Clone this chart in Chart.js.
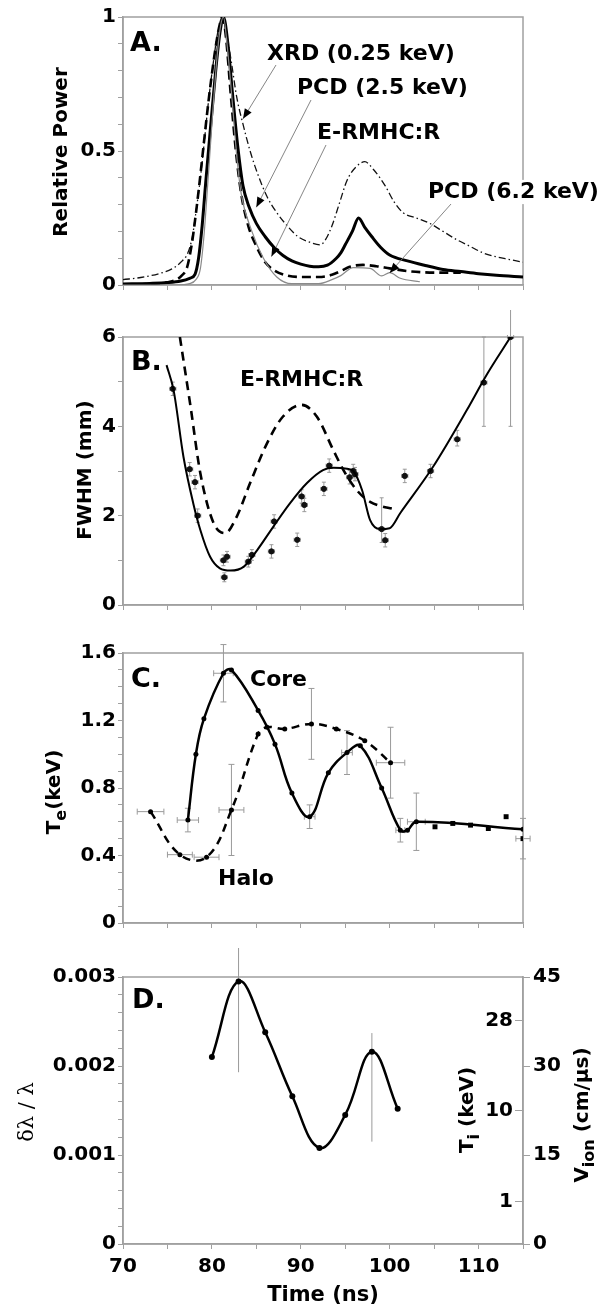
<!DOCTYPE html>
<html>
<head>
<meta charset="utf-8">
<script src="https://cdn.jsdelivr.net/npm/chart.js@4"></script>
<style>
  html, body { margin: 0; padding: 0; background: #fff; }
  #wrap { position: relative; width: 608px; height: 1311px; overflow: hidden; }
  #wrap canvas { position: absolute; left: 0; }
</style>
</head>
<body>
<div id="wrap">
  <canvas id="cA" width="608" height="310" style="top:0px"></canvas>
  <canvas id="cB" width="608" height="320" style="top:310px"></canvas>
  <canvas id="cC" width="608" height="318" style="top:630px"></canvas>
  <canvas id="cD" width="608" height="363" style="top:948px"></canvas>
</div>
<script>
// ---------- shared time axis (ns) ----------
const timeMin = 70, timeMax = 115;
const timeLabels = [70, 80, 90, 100, 110];

// ---------- A: relative power ----------
const powerTicks = [0, 0.5, 1];
const xrdT = [70,72,74,75.5,76.5,77.3,77.8,78.2,78.6,79.1,79.6,80.2,80.7,81.2,81.7,82.2,82.8,83.5,84.3,85.2,86.2,87.3,88.5,89.7,91,92.2,92.8,93.5,94.3,95.2,96.2,97.2,98.2,99.5,100.5,101.5,103,104.5,106,107.5,109,110.5,112,113.5,115];
const xrdP = [0.02,0.028,0.042,0.06,0.085,0.12,0.18,0.27,0.37,0.52,0.68,0.84,0.95,1.0,0.93,0.83,0.7,0.6,0.5,0.41,0.33,0.27,0.22,0.18,0.16,0.15,0.17,0.22,0.3,0.39,0.44,0.46,0.43,0.37,0.31,0.27,0.25,0.23,0.2,0.17,0.145,0.12,0.105,0.095,0.085];
const pcd25T = [70,73,75,76.5,77.5,78.1,78.5,78.9,79.3,79.8,80.4,80.9,81.3,81.8,82.3,82.9,83.5,84.2,85,86,87,88,89,90,91,92,93,94,94.5,95,95.8,96.5,97.2,98,99,100,102,104,106,108,110,112,115];
const pcd25P = [0.004,0.006,0.009,0.015,0.025,0.04,0.1,0.22,0.38,0.57,0.79,0.94,1.0,0.9,0.72,0.52,0.37,0.29,0.23,0.18,0.14,0.11,0.09,0.078,0.07,0.068,0.074,0.1,0.12,0.15,0.2,0.25,0.215,0.18,0.14,0.112,0.09,0.073,0.058,0.05,0.042,0.036,0.03];
const ermhcT = [70,73,75,76,76.6,77.2,77.75,78.1,78.5,79,79.6,80.3,80.8,81.2,81.6,82.1,82.7,83.3,84.1,85,86,87,88.4,90,92,93.5,94.5,95.5,97,98.5,100,102,104,106,108];
const ermhcP = [0.002,0.004,0.01,0.02,0.035,0.065,0.155,0.24,0.35,0.5,0.68,0.86,0.96,1.0,0.92,0.72,0.5,0.34,0.22,0.145,0.085,0.055,0.036,0.03,0.03,0.038,0.052,0.068,0.075,0.07,0.062,0.052,0.047,0.046,0.046];
const pcd62T = [70,76,77.5,78.2,78.7,79.1,79.5,80,80.5,80.9,81.3,81.7,82.3,82.8,83.3,84.5,85.8,87.3,89,92,93.5,94.5,95.9,97.8,99.1,100,101.2,103.4];
const pcd62P = [0,0,0.005,0.02,0.06,0.18,0.36,0.6,0.82,0.95,1.0,0.9,0.68,0.48,0.34,0.2,0.1,0.03,0.005,0.005,0.02,0.035,0.065,0.062,0.034,0.046,0.025,0.012];

// ---------- B: FWHM (mm) ----------
const fwhmTicks = [0, 2, 4, 6];
const fitT  = [74.9,75.7,76.8,77.9,78.7,79.8,80.9,82.1,83.6,85.1,86.9,88.8,90.7,92.5,93.7,95.2,95.9,96.9,97.8,98.9,100,101.2,104.9,108.7,110.9,113.6];
const fitMm = [5.37,4.8,3.32,2.28,1.68,1.08,0.82,0.77,0.86,1.23,1.75,2.28,2.73,3.02,3.07,3.05,3.0,2.57,1.9,1.70,1.72,2.06,3.1,4.37,5.15,6.0];
const ermhcBT  = [76.4,77.6,78.7,80.2,81.5,82.8,84.3,86.2,88.0,90.1,91.8,93.7,94.8,96.3,97.8,100.8];
const ermhcBMm = [6.0,4.44,2.95,1.83,1.61,1.98,2.73,3.62,4.22,4.48,4.22,3.45,3.02,2.57,2.31,2.13];
const fwhmT  = [75.6,77.5,78.1,78.4,81.3,81.4,81.7,84.1,84.5,86.7,87.0,89.6,90.1,90.4,92.6,93.2,95.5,95.9,96.1,99.1,99.5,101.7,104.6,107.6,110.6,113.6];
const fwhmMm = [4.84,3.04,2.75,2.0,1.0,0.62,1.08,0.97,1.12,1.2,1.87,1.46,2.43,2.24,2.6,3.12,2.86,3.0,2.93,1.70,1.45,2.89,3.0,3.71,4.98,6.0];
const fwhmErrDown = [0.15,0.15,0.15,0.15,0.12,0.1,0.12,0.12,0.12,0.15,0.15,0.15,0.15,0.15,0.15,0.15,0.15,0.15,0.15,0.3,0.15,0.15,0.15,0.15,0.98,2.0];
const fwhmErrUp   = [0.15,0.15,0.15,0.15,0.12,0.1,0.12,0.12,0.12,0.15,0.15,0.15,0.15,0.15,0.15,0.15,0.15,0.15,0.15,0.7,0.15,0.15,0.15,0.2,1.02,0.87];

// ---------- C: electron temperature (keV) ----------
const teTicks = [0, 0.4, 0.8, 1.2, 1.6];
const coreT    = [77.3,78.2,79.1,81.3,82.2,85.2,87.1,89.0,91.0,93.1,95.2,96.7,99.1,101.2,102.0,103.0,115.0];
const coreTe   = [0.61,1.0,1.21,1.48,1.5,1.26,1.06,0.77,0.63,0.89,1.01,1.05,0.80,0.55,0.55,0.60,0.555];
const coreErrX = [1.2,0,0,1.1,0,0,0,0,0.6,0,0.6,0,0,0.5,0,1.0,0];
const coreErrY = [0.07,0,0,0.17,0,0,0,0,0.07,0,0.13,0,0,0.07,0,0.17,0];
const tailT    = [105.1,107.1,109.1,111.1,113.1,115.0];
const tailTe   = [0.57,0.59,0.58,0.56,0.63,0.50];
const tailErrX = [0,0,0,0,0,0.8];
const tailErrY = [0,0,0,0,0,0.12];
const haloT    = [73.1,76.4,79.4,82.2,85.2,86.2,88.2,91.2,94.0,97.2,100.1];
const haloTe   = [0.66,0.405,0.39,0.67,1.12,1.16,1.15,1.18,1.15,1.08,0.95];
const haloErrX = [1.5,1.4,1.4,1.4,0,0,0,0,0,0,1.6];
const haloErrY = [0,0,0,0.27,0,0,0,0.21,0,0,0.21];

// ---------- D: line shift, ion temperature, ion velocity ----------
const shiftTicks = [0, 0.001, 0.002, 0.003];
const vionTicks  = [0, 15, 30, 45];       // cm/us
const tiTicks    = [1, 10, 28];           // keV
const shiftT     = [80.0,83.0,86.0,89.05,92.1,95.0,98.0,100.9];
const shiftVal   = [0.0021,0.00295,0.00238,0.00166,0.00108,0.00145,0.00216,0.00152];
const shiftErrUp   = [0,0.0004,0,0,0,0,0.00021,0];
const shiftErrDown = [0,0.00102,0,0,0,0,0.00101,0];

// unit conversions for the right-hand axes
const SHIFT_PER_VION = 0.003 / 45;        // d(lambda)/lambda per cm/us
const TI_PER_VION2 = 0.0197;              // keV per (cm/us)^2
const vionToShift = v => v * SHIFT_PER_VION;
const tiToShift = t => Math.sqrt(t / TI_PER_VION2) * SHIFT_PER_VION;

// ---------- helpers ----------
const FAMILY = "'DejaVu Sans', sans-serif";
Chart.defaults.font.family = FAMILY;
Chart.defaults.color = '#000';
const pts = (xs, ys) => xs.map((x, i) => ({ x, y: ys[i] }));
const AXIS_GREY = '#a0a0a0';

function stepTicks(min, max, step) {
  const n = Math.round((max - min) / step), out = [];
  for (let i = 0; i <= n; i++) out.push({ value: +(min + i * step).toFixed(8) });
  return out;
}

function xAxis(showLabels, height) {
  const ax = {
    type: 'linear', min: timeMin, max: timeMax,
    afterBuildTicks: s => { s.ticks = stepTicks(timeMin, timeMax, 5); },
    ticks: {
      display: showLabels, autoSkip: false, maxRotation: 0, padding: 6,
      font: { size: 20, weight: 'bold' }, color: '#000',
      callback: v => (timeLabels.includes(v) ? String(v) : '')
    },
    grid: { drawOnChartArea: false, drawTicks: true, tickLength: 5, color: AXIS_GREY },
    border: { color: AXIS_GREY, width: 1.5 },
    afterFit: s => { s.height = height; }
  };
  if (showLabels) {
    ax.title = { display: true, text: 'Time (ns)', font: { size: 21, weight: 'bold' }, color: '#000', padding: { top: 0, bottom: 3 } };
  }
  return ax;
}

function yAxis(min, max, step, labels) {
  return {
    type: 'linear', position: 'left', min, max,
    afterBuildTicks: s => { s.ticks = stepTicks(min, max, step); },
    ticks: {
      autoSkip: false, padding: 2, color: '#000', font: { size: 20, weight: 'bold' },
      callback: v => {
        const k = labels.findIndex(l => Math.abs(l - v) < step / 10);
        return k < 0 ? '' : String(labels[k]);
      }
    },
    grid: { drawOnChartArea: false, tickLength: 5, color: AXIS_GREY },
    border: { color: AXIS_GREY, width: 1.5 },
    afterFit: s => { s.width = 123; }
  };
}

// plot frame
const framePlugin = {
  id: 'frame',
  beforeDatasetsDraw(chart) {
    const { ctx, chartArea: a } = chart;
    ctx.save();
    ctx.strokeStyle = AXIS_GREY; ctx.lineWidth = 1.5;
    ctx.strokeRect(a.left, a.top, a.right - a.left, a.bottom - a.top);
    ctx.restore();
  }
};

// error bars from per-dataset errX / errUp / errDown arrays
const errorBarPlugin = {
  id: 'errorBars',
  beforeDatasetsDraw(chart) {
    const { ctx } = chart;
    const xs = chart.scales.x;
    chart.data.datasets.forEach(ds => {
      if (!ds.errX && !ds.errUp) return;
      const ys = chart.scales[ds.yAxisID || 'y'];
      const cap = ds.errCap === undefined ? 3 : ds.errCap;
      ctx.save();
      ctx.strokeStyle = '#9a9a9a'; ctx.lineWidth = 1;
      ds.data.forEach((p, i) => {
        const px = xs.getPixelForValue(p.x), py = ys.getPixelForValue(p.y);
        const ex = ds.errX ? ds.errX[i] : 0;
        const up = ds.errUp ? ds.errUp[i] : 0, dn = ds.errDown ? ds.errDown[i] : 0;
        ctx.beginPath();
        if (up || dn) {
          const y1 = ys.getPixelForValue(p.y + up), y2 = ys.getPixelForValue(p.y - dn);
          ctx.moveTo(px, y1); ctx.lineTo(px, y2);
          if (cap) {
            ctx.moveTo(px - cap, y1); ctx.lineTo(px + cap, y1);
            ctx.moveTo(px - cap, y2); ctx.lineTo(px + cap, y2);
          }
        }
        if (ex) {
          const x1 = xs.getPixelForValue(p.x - ex), x2 = xs.getPixelForValue(p.x + ex);
          ctx.moveTo(x1, py); ctx.lineTo(x2, py);
          if (cap) {
            ctx.moveTo(x1, py - cap); ctx.lineTo(x1, py + cap);
            ctx.moveTo(x2, py - cap); ctx.lineTo(x2, py + cap);
          }
        }
        ctx.stroke();
      });
      ctx.restore();
    });
  }
};

// panel letters, labels, axis titles with subscripts, leader arrows
function drawParts(ctx, item, top) {
  const size = item.size;
  const fam = item.family || FAMILY;
  const wt = item.weight || 'bold';
  const subSize = Math.round(size * 0.8);
  const segs = item.parts.map(([t, sub]) => {
    ctx.font = `${wt} ${sub ? subSize : size}px ${fam}`;
    return { t, sub, w: ctx.measureText(t).width };
  });
  const W = segs.reduce((a, s) => a + s.w, 0);
  ctx.save();
  ctx.translate(item.x, item.y - top);
  if (item.rot) ctx.rotate(-Math.PI / 2);
  let sx = item.align === 'center' ? -W / 2 : 0;
  ctx.textBaseline = 'middle'; ctx.textAlign = 'left';
  if (item.bg) { ctx.fillStyle = '#fff'; ctx.fillRect(sx - 3, -size * 0.55, W + 6, size * 1.1); }
  ctx.fillStyle = '#000';
  segs.forEach(s => {
    ctx.font = `${wt} ${s.sub ? subSize : size}px ${fam}`;
    ctx.fillText(s.t, sx, s.sub ? size * 0.32 : 0);
    sx += s.w;
  });
  ctx.restore();
}

const decorPlugin = {
  id: 'decor',
  afterDraw(chart, args, opts) {
    const { ctx } = chart;
    const top = opts.top || 0;
    (opts.texts || []).forEach(it => drawParts(ctx, it, top));
    (opts.arrows || []).forEach(a => {
      const x0 = a.from[0], y0 = a.from[1] - top;
      const x1 = chart.scales.x.getPixelForValue(a.to[0]);
      const y1 = chart.scales.y.getPixelForValue(a.to[1]);
      ctx.save();
      ctx.strokeStyle = '#777'; ctx.lineWidth = 0.9;
      ctx.beginPath(); ctx.moveTo(x0, y0); ctx.lineTo(x1, y1); ctx.stroke();
      const ang = Math.atan2(y1 - y0, x1 - x0), L = 10, Wd = 4;
      ctx.fillStyle = '#000';
      ctx.beginPath();
      ctx.moveTo(x1, y1);
      ctx.lineTo(x1 - L * Math.cos(ang) + Wd * Math.sin(ang), y1 - L * Math.sin(ang) - Wd * Math.cos(ang));
      ctx.lineTo(x1 - L * Math.cos(ang) - Wd * Math.sin(ang), y1 - L * Math.sin(ang) + Wd * Math.cos(ang));
      ctx.closePath(); ctx.fill();
      ctx.restore();
    });
  }
};

function makeChart(id, top, datasets, scales, padding, decor) {
  return new Chart(document.getElementById(id), {
    type: 'line',
    data: { datasets },
    options: {
      responsive: false, animation: false, devicePixelRatio: 1,
      layout: { padding },
      plugins: { legend: { display: false }, tooltip: { enabled: false }, decor: Object.assign({ top }, decor) },
      elements: { point: { radius: 0 }, line: { borderJoinStyle: 'round', borderCapStyle: 'butt' } },
      scales
    },
    plugins: [framePlugin, errorBarPlugin, decorPlugin]
  });
}

const mono = { cubicInterpolationMode: 'monotone', fill: false };

// ---------- Panel A ----------
makeChart('cA', 0, [
  Object.assign({ data: pts(pcd62T, pcd62P), borderColor: '#8a8a8a', borderWidth: 1.2 }, mono),
  Object.assign({ data: pts(ermhcT, ermhcP), borderColor: '#000', borderWidth: 2.6, borderDash: [9, 5] }, mono),
  Object.assign({ data: pts(xrdT, xrdP), borderColor: '#111', borderWidth: 1.3, borderDash: [7, 3, 1.5, 3] }, mono),
  Object.assign({ data: pts(pcd25T, pcd25P), borderColor: '#000', borderWidth: 3 }, mono)
], {
  x: xAxis(false, 25),
  y: yAxis(0, 1, 0.1, powerTicks)
}, { top: 17, right: 85, bottom: 0, left: 0 }, {
  texts: [
    { parts: [['A.']], x: 130, y: 44, size: 27 },
    { parts: [['Relative Power']], x: 62, y: 152, size: 20, rot: true, align: 'center' },
    { parts: [['XRD (0.25 keV)']], x: 267, y: 54, size: 22, bg: true },
    { parts: [['PCD (2.5 keV)']], x: 297, y: 88, size: 22, bg: true },
    { parts: [['E-RMHC:R']], x: 317, y: 133, size: 22, bg: true },
    { parts: [['PCD (6.2 keV)']], x: 428, y: 192, size: 22, bg: true }
  ],
  arrows: [
    { from: [276, 65], to: [83.5, 0.62] },
    { from: [311, 100], to: [85.0, 0.29] },
    { from: [326, 145], to: [86.7, 0.106] },
    { from: [451, 204], to: [100.0, 0.045] }
  ]
});

// ---------- Panel B ----------
makeChart('cB', 310, [
  Object.assign({ data: pts(ermhcBT, ermhcBMm), borderColor: '#000', borderWidth: 2.6, borderDash: [9, 6] }, mono),
  Object.assign({ data: pts(fitT, fitMm), borderColor: '#000', borderWidth: 2 }, mono),
  { data: pts(fwhmT, fwhmMm), showLine: false, pointRadius: 2.6, pointBackgroundColor: '#111', pointBorderColor: '#111',
    errX: fwhmT.map(() => 0.35), errUp: fwhmErrUp, errDown: fwhmErrDown, errCap: 2 }
], {
  x: xAxis(false, 25),
  y: yAxis(0, 6, 1, fwhmTicks)
}, { top: 27, right: 85, bottom: 0, left: 0 }, {
  texts: [
    { parts: [['B.']], x: 131, y: 363, size: 27 },
    { parts: [['FWHM (mm)']], x: 86, y: 470, size: 20, rot: true, align: 'center' },
    { parts: [['E-RMHC:R']], x: 240, y: 380, size: 22 }
  ]
});

// ---------- Panel C ----------
makeChart('cC', 630, [
  { data: pts(haloT, haloTe), borderColor: '#000', borderWidth: 2.5, borderDash: [8, 6], tension: 0.4,
    pointRadius: 2.5, pointBackgroundColor: '#000', pointBorderWidth: 0, errX: haloErrX, errUp: haloErrY, errDown: haloErrY },
  { data: pts(coreT, coreTe), borderColor: '#000', borderWidth: 2.5, tension: 0.4,
    pointRadius: 2.5, pointBackgroundColor: '#000', pointBorderWidth: 0, errX: coreErrX, errUp: coreErrY, errDown: coreErrY },
  { data: pts(tailT, tailTe), showLine: false, pointStyle: 'rect', pointRadius: 3.5, pointBackgroundColor: '#000', pointBorderWidth: 0,
    errX: tailErrX, errUp: tailErrY, errDown: tailErrY }
], {
  x: xAxis(false, 25),
  y: yAxis(0, 1.6, 0.1, teTicks)
}, { top: 23, right: 85, bottom: 0, left: 0 }, {
  texts: [
    { parts: [['C.']], x: 131, y: 680, size: 27 },
    { parts: [['Core']], x: 250, y: 680, size: 22 },
    { parts: [['Halo']], x: 218, y: 879, size: 22 },
    { parts: [['T'], ['e', true], ['(keV)']], x: 55, y: 792, size: 20, rot: true, align: 'center' }
  ]
});

// ---------- Panel D ----------
makeChart('cD', 948, [
  { data: pts(shiftT, shiftVal), borderColor: '#000', borderWidth: 2.5, tension: 0.4,
    pointRadius: 3, pointBackgroundColor: '#000', pointBorderWidth: 0, errUp: shiftErrUp, errDown: shiftErrDown, errCap: 0 }
], {
  x: xAxis(true, 67),
  y: yAxis(0, 0.003, 0.0002, shiftTicks),
  yTi: {
    type: 'linear', position: 'right', min: 0, max: 0.003, weight: 0,
    afterBuildTicks: s => { s.ticks = tiTicks.map(t => ({ value: tiToShift(t) })); },
    ticks: { mirror: true, padding: -10, autoSkip: false, color: '#000', font: { size: 20, weight: 'bold' },
      callback: (v, i) => String(tiTicks[i]) },
    grid: { drawOnChartArea: false, tickLength: -8, color: AXIS_GREY },
    border: { color: AXIS_GREY, width: 1.5 },
    afterFit: s => { s.width = 0; }
  },
  yV: {
    type: 'linear', position: 'right', min: 0, max: 0.003, weight: 1,
    afterBuildTicks: s => { s.ticks = vionTicks.map(v => ({ value: vionToShift(v) })); },
    ticks: { padding: 3, autoSkip: false, color: '#000', font: { size: 20, weight: 'bold' },
      callback: (v, i) => String(vionTicks[i]) },
    grid: { drawOnChartArea: false, tickLength: 7, color: AXIS_GREY },
    border: { display: false },
    afterFit: s => { s.width = 60; }
  }
}, { top: 29, right: 25, bottom: 0, left: 0 }, {
  texts: [
    { parts: [['D.']], x: 132, y: 1001, size: 27 },
    { parts: [['δλ / λ']], x: 28, y: 1112, size: 21, weight: 'normal', family: "'DejaVu Serif', serif", rot: true, align: 'center' },
    { parts: [['T'], ['i', true], [' (keV)']], x: 468, y: 1110, size: 20, rot: true, align: 'center' },
    { parts: [['V'], ['ion', true], [' (cm/µs)']], x: 583, y: 1115, size: 20, rot: true, align: 'center' }
  ]
});
</script>
</body>
</html>
